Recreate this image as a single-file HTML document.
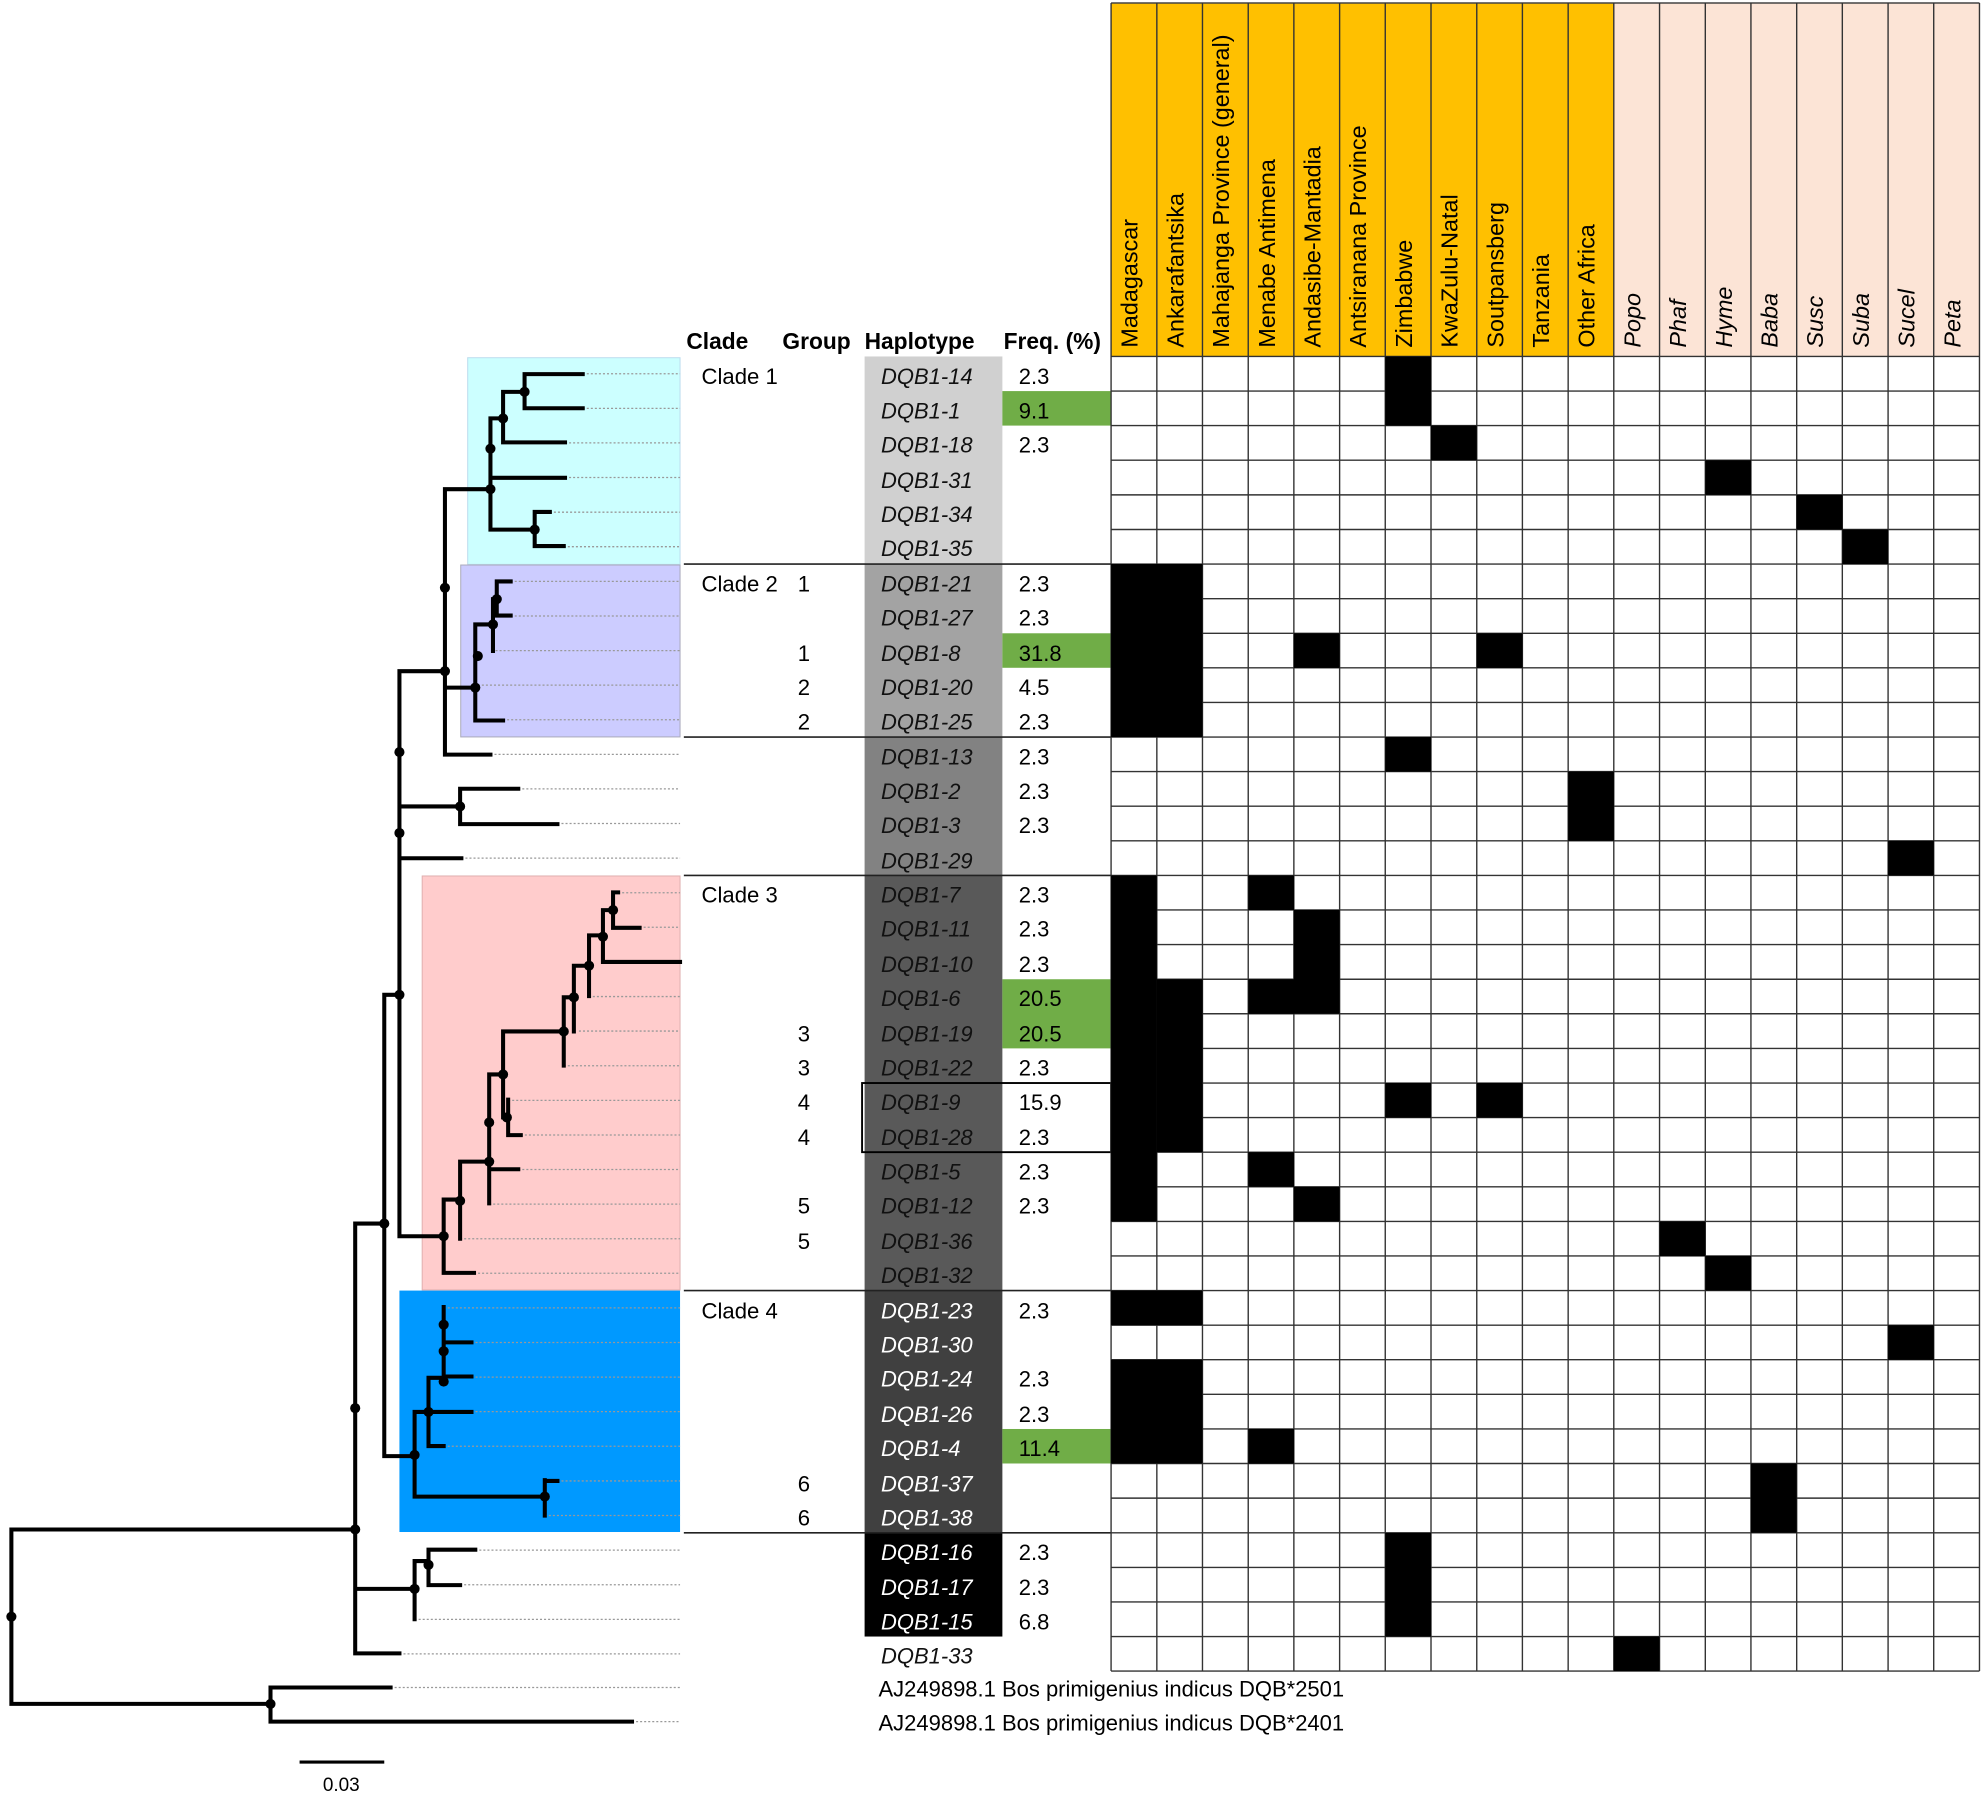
<!DOCTYPE html>
<html><head><meta charset="utf-8"><style>
html,body{margin:0;padding:0;background:#fff;}
svg{display:block;}
text{font-family:"Liberation Sans",Arial,sans-serif;}
</style></head><body>
<svg width="1982" height="1802" viewBox="0 0 1568 1425.6" preserveAspectRatio="none" xmlns="http://www.w3.org/2000/svg">
<rect x="0" y="0" width="1568" height="1425.6" fill="#fff"/>
<!-- clade boxes -->
<rect x="370" y="283" width="168" height="163.5" fill="#CCFFFF" stroke="#bde" stroke-width="0.8"/>
<rect x="364.5" y="447" width="173.5" height="136" fill="#CCCCFF" stroke="#aab" stroke-width="0.8"/>
<rect x="334" y="693" width="204" height="327.5" fill="#FFCCCC" stroke="#e0b0b0" stroke-width="0.8"/>
<rect x="316" y="1021" width="222" height="191" fill="#0099FF"/>
<!-- leaders -->
<path fill="none" stroke="#999" stroke-width="1" stroke-dasharray="1.6 1.6" d="
M461 295.7H538M461 323.1H538M447 350.4H538M447 377.8H538M435 405.2H538M446 432.5H538
M404 459.9H538M404 487.3H538M392 514.7H538M378 542H538M398 569.4H538
M388 596.8H538M410 624.1H538M441 651.5H538M365 678.9H538
M489 706.3H538M506 733.6H538M469 788.4H538M458 815.7H538M446 843.1H538M402 870.5H538M412 897.9H538M410 925.2H538M387 952.6H538M364 980H538M375 1007.3H538
M351 1034.7H538M373 1062.1H538M373 1089.5H538M373 1116.8H538M351 1144.2H538M441 1171.6H538M431 1198.9H538
M376 1226.3H538M364 1253.7H538M328 1281.1H538M316 1308.4H538M309 1335H538M500 1362H538"/>
<!-- tree -->
<path fill="none" stroke="#000" stroke-width="3.2" stroke-linecap="square" d="
M415 296V323M415 296H461M415 323H461
M398 310V350M398 310H415M398 350H447
M388 331V419M388 331H398M388 378H447M388 419H423
M423 405V432M423 405H435M423 432H446
M352 387H388
M352 387V597M352 597H388M352 544H376
M376 494V570M376 570H398M376 494H390
M390 474V515M390 474H393
M393 460V487M393 460H404M393 487H404
M316 531H352
M364 624V652M364 624H410M364 652H441M316 638H364M316 679H365
M316 531V978M304 787H316M304 787V1152M281 968H304M281 968V1308M281 1308H316M9 1210H281
M316 978H351M351 949V1007M351 1007H375M351 949H364
M364 919V980M364 919H387
M387 850V952M387 925H410M387 850H398
M398 816V884M398 884H402M402 870V898M402 898H412M398 816H446
M446 789V843M446 789H454
M454 764V816M454 764H466
M466 764V788M466 740V788M466 740H477
M477 720V761M477 761H538M477 720H485
M485 706V734M485 706H489M485 734H506
M304 1152H328M328 1117V1184M328 1117H339M328 1184H431
M431 1171V1199M431 1171.6H441
M339 1090V1144M339 1144H351M339 1090H351M339 1117H373
M351 1034V1090M351 1062H373M351 1089H373
M281 1257H328M328 1235V1281M328 1235H339
M339 1226V1254M339 1226H376M339 1254H364
M9 1210V1348M9 1348H214M214 1335V1362M214 1335H309M214 1362H500"/>
<g fill="#000">
<circle cx="415" cy="310" r="4"/><circle cx="398" cy="331" r="4"/><circle cx="388" cy="355" r="4"/><circle cx="388" cy="387" r="4"/><circle cx="423" cy="419" r="4"/>
<circle cx="352" cy="465" r="4"/><circle cx="352" cy="531" r="4"/><circle cx="376" cy="544" r="4"/><circle cx="378" cy="519" r="4"/><circle cx="390" cy="494" r="4"/><circle cx="393" cy="474" r="4"/>
<circle cx="316" cy="595" r="4"/><circle cx="316" cy="659" r="4"/><circle cx="364" cy="638" r="4"/><circle cx="316" cy="787" r="4"/><circle cx="304" cy="968" r="4"/>
<circle cx="351" cy="978" r="4"/><circle cx="364" cy="950" r="4"/><circle cx="387" cy="888" r="4"/><circle cx="387" cy="919" r="4"/><circle cx="398" cy="850" r="4"/><circle cx="401" cy="884" r="4"/>
<circle cx="446" cy="816" r="4"/><circle cx="454" cy="789" r="4"/><circle cx="466" cy="764" r="4"/><circle cx="477" cy="741" r="4"/><circle cx="485" cy="720" r="4"/>
<circle cx="328" cy="1151" r="4"/><circle cx="431" cy="1184" r="4"/><circle cx="339" cy="1117" r="4"/><circle cx="351" cy="1048" r="4"/><circle cx="351" cy="1069" r="4"/><circle cx="351" cy="1093" r="4"/>
<circle cx="281" cy="1114" r="4"/><circle cx="281" cy="1210" r="4"/><circle cx="328" cy="1257" r="4"/><circle cx="339" cy="1238" r="4"/>
<circle cx="9" cy="1279" r="4"/><circle cx="214" cy="1348" r="4"/>
</g>
<!-- scale bar -->
<path d="M237 1394H304" stroke="#000" stroke-width="2.5"/>
<text x="270" y="1417" font-size="15" text-anchor="middle">0.03</text>

<!-- haplotype column bg -->
<rect x="684" y="282" width="109" height="164.2" fill="#D0D0D0"/>
<rect x="684" y="446.2" width="109" height="136.9" fill="#A3A3A3"/>
<rect x="684" y="583.1" width="109" height="109.5" fill="#828282"/>
<rect x="684" y="692.6" width="109" height="328.4" fill="#595959"/>
<rect x="684" y="1021" width="109" height="191.6" fill="#404040"/>
<rect x="684" y="1212.6" width="109" height="82.1" fill="#000"/>
<!-- green freq -->
<g fill="#70AD47">
<rect x="793" y="309.4" width="86" height="27.3"/>
<rect x="793" y="501" width="86" height="27.3"/>
<rect x="793" y="774.7" width="86" height="54.7"/>
<rect x="793" y="1130.5" width="86" height="27.3"/>
</g>
<!-- separators -->
<g stroke="#222" stroke-width="1.3">
<line x1="541" y1="446.2" x2="879" y2="446.2"/>
<line x1="541" y1="583.1" x2="879" y2="583.1"/>
<line x1="541" y1="692.6" x2="879" y2="692.6"/>
<line x1="541" y1="1021" x2="879" y2="1021"/>
<line x1="541" y1="1212.6" x2="879" y2="1212.6"/>
</g>
<rect x="682" y="856.8" width="197" height="54.7" fill="none" stroke="#000" stroke-width="1.5"/>

<!-- headers -->
<g font-size="18" font-weight="bold">
<text x="543" y="276">Clade</text>
<text x="619" y="276">Group</text>
<text x="684" y="276">Haplotype</text>
<text x="794" y="276">Freq. (%)</text>
</g>
<g font-size="17.5">
<text x="555" y="304">Clade 1</text>
<text x="555" y="468">Clade 2</text>
<text x="555" y="714">Clade 3</text>
<text x="555" y="1043">Clade 4</text>
</g>
<g font-size="17.5" text-anchor="middle">
<text x="636" y="468">1</text><text x="636" y="523">1</text><text x="636" y="550">2</text><text x="636" y="577">2</text>
<text x="636" y="824">3</text><text x="636" y="851">3</text><text x="636" y="878">4</text><text x="636" y="906">4</text>
<text x="636" y="960">5</text><text x="636" y="988">5</text><text x="636" y="1180">6</text><text x="636" y="1207">6</text>
</g>
<g font-size="17.4" font-style="italic" fill="#111">
<text x="697" y="304">DQB1-14</text><text x="697" y="331">DQB1-1</text><text x="697" y="358">DQB1-18</text><text x="697" y="386">DQB1-31</text><text x="697" y="413">DQB1-34</text><text x="697" y="440">DQB1-35</text>
<text x="697" y="468">DQB1-21</text><text x="697" y="495">DQB1-27</text><text x="697" y="523">DQB1-8</text><text x="697" y="550">DQB1-20</text><text x="697" y="577">DQB1-25</text>
<text x="697" y="605">DQB1-13</text><text x="697" y="632">DQB1-2</text><text x="697" y="659">DQB1-3</text><text x="697" y="687">DQB1-29</text>
<text x="697" y="714">DQB1-7</text><text x="697" y="741">DQB1-11</text><text x="697" y="769">DQB1-10</text><text x="697" y="796">DQB1-6</text><text x="697" y="824">DQB1-19</text><text x="697" y="851">DQB1-22</text><text x="697" y="878">DQB1-9</text><text x="697" y="906">DQB1-28</text><text x="697" y="933">DQB1-5</text><text x="697" y="960">DQB1-12</text><text x="697" y="988">DQB1-36</text><text x="697" y="1015">DQB1-32</text>
<text x="697" y="1316">DQB1-33</text>
</g>
<g font-size="17.4" font-style="italic" fill="#fff">
<text x="697" y="1043">DQB1-23</text><text x="697" y="1070">DQB1-30</text><text x="697" y="1097">DQB1-24</text><text x="697" y="1125">DQB1-26</text><text x="697" y="1152">DQB1-4</text><text x="697" y="1180">DQB1-37</text><text x="697" y="1207">DQB1-38</text>
<text x="697" y="1234">DQB1-16</text><text x="697" y="1262">DQB1-17</text><text x="697" y="1289">DQB1-15</text>
</g>
<g font-size="17.4">
<text x="806" y="304">2.3</text><text x="806" y="331">9.1</text><text x="806" y="358">2.3</text>
<text x="806" y="468">2.3</text><text x="806" y="495">2.3</text><text x="806" y="523">31.8</text><text x="806" y="550">4.5</text><text x="806" y="577">2.3</text>
<text x="806" y="605">2.3</text><text x="806" y="632">2.3</text><text x="806" y="659">2.3</text>
<text x="806" y="714">2.3</text><text x="806" y="741">2.3</text><text x="806" y="769">2.3</text><text x="806" y="796">20.5</text><text x="806" y="824">20.5</text><text x="806" y="851">2.3</text><text x="806" y="878">15.9</text><text x="806" y="906">2.3</text><text x="806" y="933">2.3</text><text x="806" y="960">2.3</text>
<text x="806" y="1043">2.3</text><text x="806" y="1097">2.3</text><text x="806" y="1125">2.3</text><text x="806" y="1152">11.4</text>
<text x="806" y="1234">2.3</text><text x="806" y="1262">2.3</text><text x="806" y="1289">6.8</text>
<text x="695" y="1342">AJ249898.1 Bos primigenius indicus DQB*2501</text>
<text x="695" y="1369">AJ249898.1 Bos primigenius indicus DQB*2401</text>
</g>

<!-- column headers -->
<rect x="879" y="2.4" width="397.7" height="279.6" fill="#FFC000"/>
<rect x="1276.7" y="2.4" width="289.3" height="279.6" fill="#FCE4D6"/>
<line x1="879" y1="2.4" x2="1566" y2="2.4" stroke="#444" stroke-width="1.2"/>
<g font-size="18.5">
<text transform="translate(900,275) rotate(-90)">Madagascar</text>
<text transform="translate(936.2,275) rotate(-90)">Ankarafantsika</text>
<text transform="translate(972.3,275) rotate(-90)">Mahajanga Province (general)</text>
<text transform="translate(1008.5,275) rotate(-90)">Menabe Antimena</text>
<text transform="translate(1044.6,275) rotate(-90)">Andasibe-Mantadia</text>
<text transform="translate(1080.8,275) rotate(-90)">Antsiranana Province</text>
<text transform="translate(1116.9,275) rotate(-90)">Zimbabwe</text>
<text transform="translate(1153.1,275) rotate(-90)">KwaZulu-Natal</text>
<text transform="translate(1189.3,275) rotate(-90)">Soutpansberg</text>
<text transform="translate(1225.4,275) rotate(-90)">Tanzania</text>
<text transform="translate(1261.6,275) rotate(-90)">Other Africa</text>
</g>
<g font-size="18.5" font-style="italic">
<text transform="translate(1297.7,275) rotate(-90)">Popo</text>
<text transform="translate(1333.9,275) rotate(-90)">Phaf</text>
<text transform="translate(1370.1,275) rotate(-90)">Hyme</text>
<text transform="translate(1406.2,275) rotate(-90)">Baba</text>
<text transform="translate(1442.4,275) rotate(-90)">Susc</text>
<text transform="translate(1478.5,275) rotate(-90)">Suba</text>
<text transform="translate(1514.7,275) rotate(-90)">Sucel</text>
<text transform="translate(1550.8,275) rotate(-90)">Peta</text>
</g>

<!-- grid lines -->
<g stroke="#333" stroke-width="1.1">
<path d="M879 2.4V1322M915.2 2.4V1322M951.3 2.4V1322M987.5 2.4V1322M1023.6 2.4V1322M1059.8 2.4V1322M1095.9 2.4V1322M1132.1 2.4V1322M1168.3 2.4V1322M1204.4 2.4V1322M1240.6 2.4V1322M1276.7 2.4V1322M1312.9 2.4V1322M1349.1 2.4V1322M1385.2 2.4V1322M1421.4 2.4V1322M1457.5 2.4V1322M1493.7 2.4V1322M1529.8 2.4V1322M1566 2.4V1322"/>
<path d="M879 282H1566M879 309.4H1566M879 336.7H1566M879 364.1H1566M879 391.5H1566M879 418.9H1566M879 446.2H1566M879 473.6H1566M879 501H1566M879 528.3H1566M879 555.7H1566M879 583.1H1566M879 610.4H1566M879 637.8H1566M879 665.2H1566M879 692.6H1566M879 719.9H1566M879 747.3H1566M879 774.7H1566M879 802H1566M879 829.4H1566M879 856.8H1566M879 884.1H1566M879 911.5H1566M879 938.9H1566M879 966.3H1566M879 993.6H1566M879 1021H1566M879 1048.4H1566M879 1075.7H1566M879 1103.1H1566M879 1130.5H1566M879 1157.8H1566M879 1185.2H1566M879 1212.6H1566M879 1240H1566M879 1267.3H1566M879 1294.7H1566M879 1322H1566"/>
</g>
<!-- black cells -->
<g fill="#000">
<rect x="1095.9" y="282" width="36.2" height="54.7"/>
<rect x="1132.1" y="336.7" width="36.2" height="27.4"/>
<rect x="1349.1" y="364.1" width="36.2" height="27.4"/>
<rect x="1421.4" y="391.5" width="36.2" height="27.4"/>
<rect x="1457.5" y="418.9" width="36.2" height="27.4"/>
<rect x="879" y="446.2" width="72.3" height="136.9"/>
<rect x="1023.6" y="501" width="36.2" height="27.4"/>
<rect x="1168.3" y="501" width="36.2" height="27.4"/>
<rect x="1095.9" y="583.1" width="36.2" height="27.4"/>
<rect x="1240.6" y="610.4" width="36.2" height="54.8"/>
<rect x="1493.7" y="665.2" width="36.2" height="27.4"/>
<rect x="879" y="692.6" width="36.2" height="273.7"/>
<rect x="987.5" y="692.6" width="36.2" height="27.4"/>
<rect x="1023.6" y="719.9" width="36.2" height="82.1"/>
<rect x="987.5" y="774.7" width="36.2" height="27.4"/>
<rect x="915.2" y="774.7" width="36.2" height="136.8"/>
<rect x="1095.9" y="856.8" width="36.2" height="27.4"/>
<rect x="1168.3" y="856.8" width="36.2" height="27.4"/>
<rect x="987.5" y="911.5" width="36.2" height="27.4"/>
<rect x="1023.6" y="938.9" width="36.2" height="27.4"/>
<rect x="1312.9" y="966.3" width="36.2" height="27.4"/>
<rect x="1349.1" y="993.6" width="36.2" height="27.4"/>
<rect x="879" y="1021" width="72.3" height="27.4"/>
<rect x="1493.7" y="1048.4" width="36.2" height="27.4"/>
<rect x="879" y="1075.7" width="72.3" height="82.1"/>
<rect x="987.5" y="1130.5" width="36.2" height="27.4"/>
<rect x="1385.2" y="1157.8" width="36.2" height="54.8"/>
<rect x="1095.9" y="1212.6" width="36.2" height="82.1"/>
<rect x="1276.7" y="1294.7" width="36.2" height="27.3"/>
</g>
</svg>
</body></html>
